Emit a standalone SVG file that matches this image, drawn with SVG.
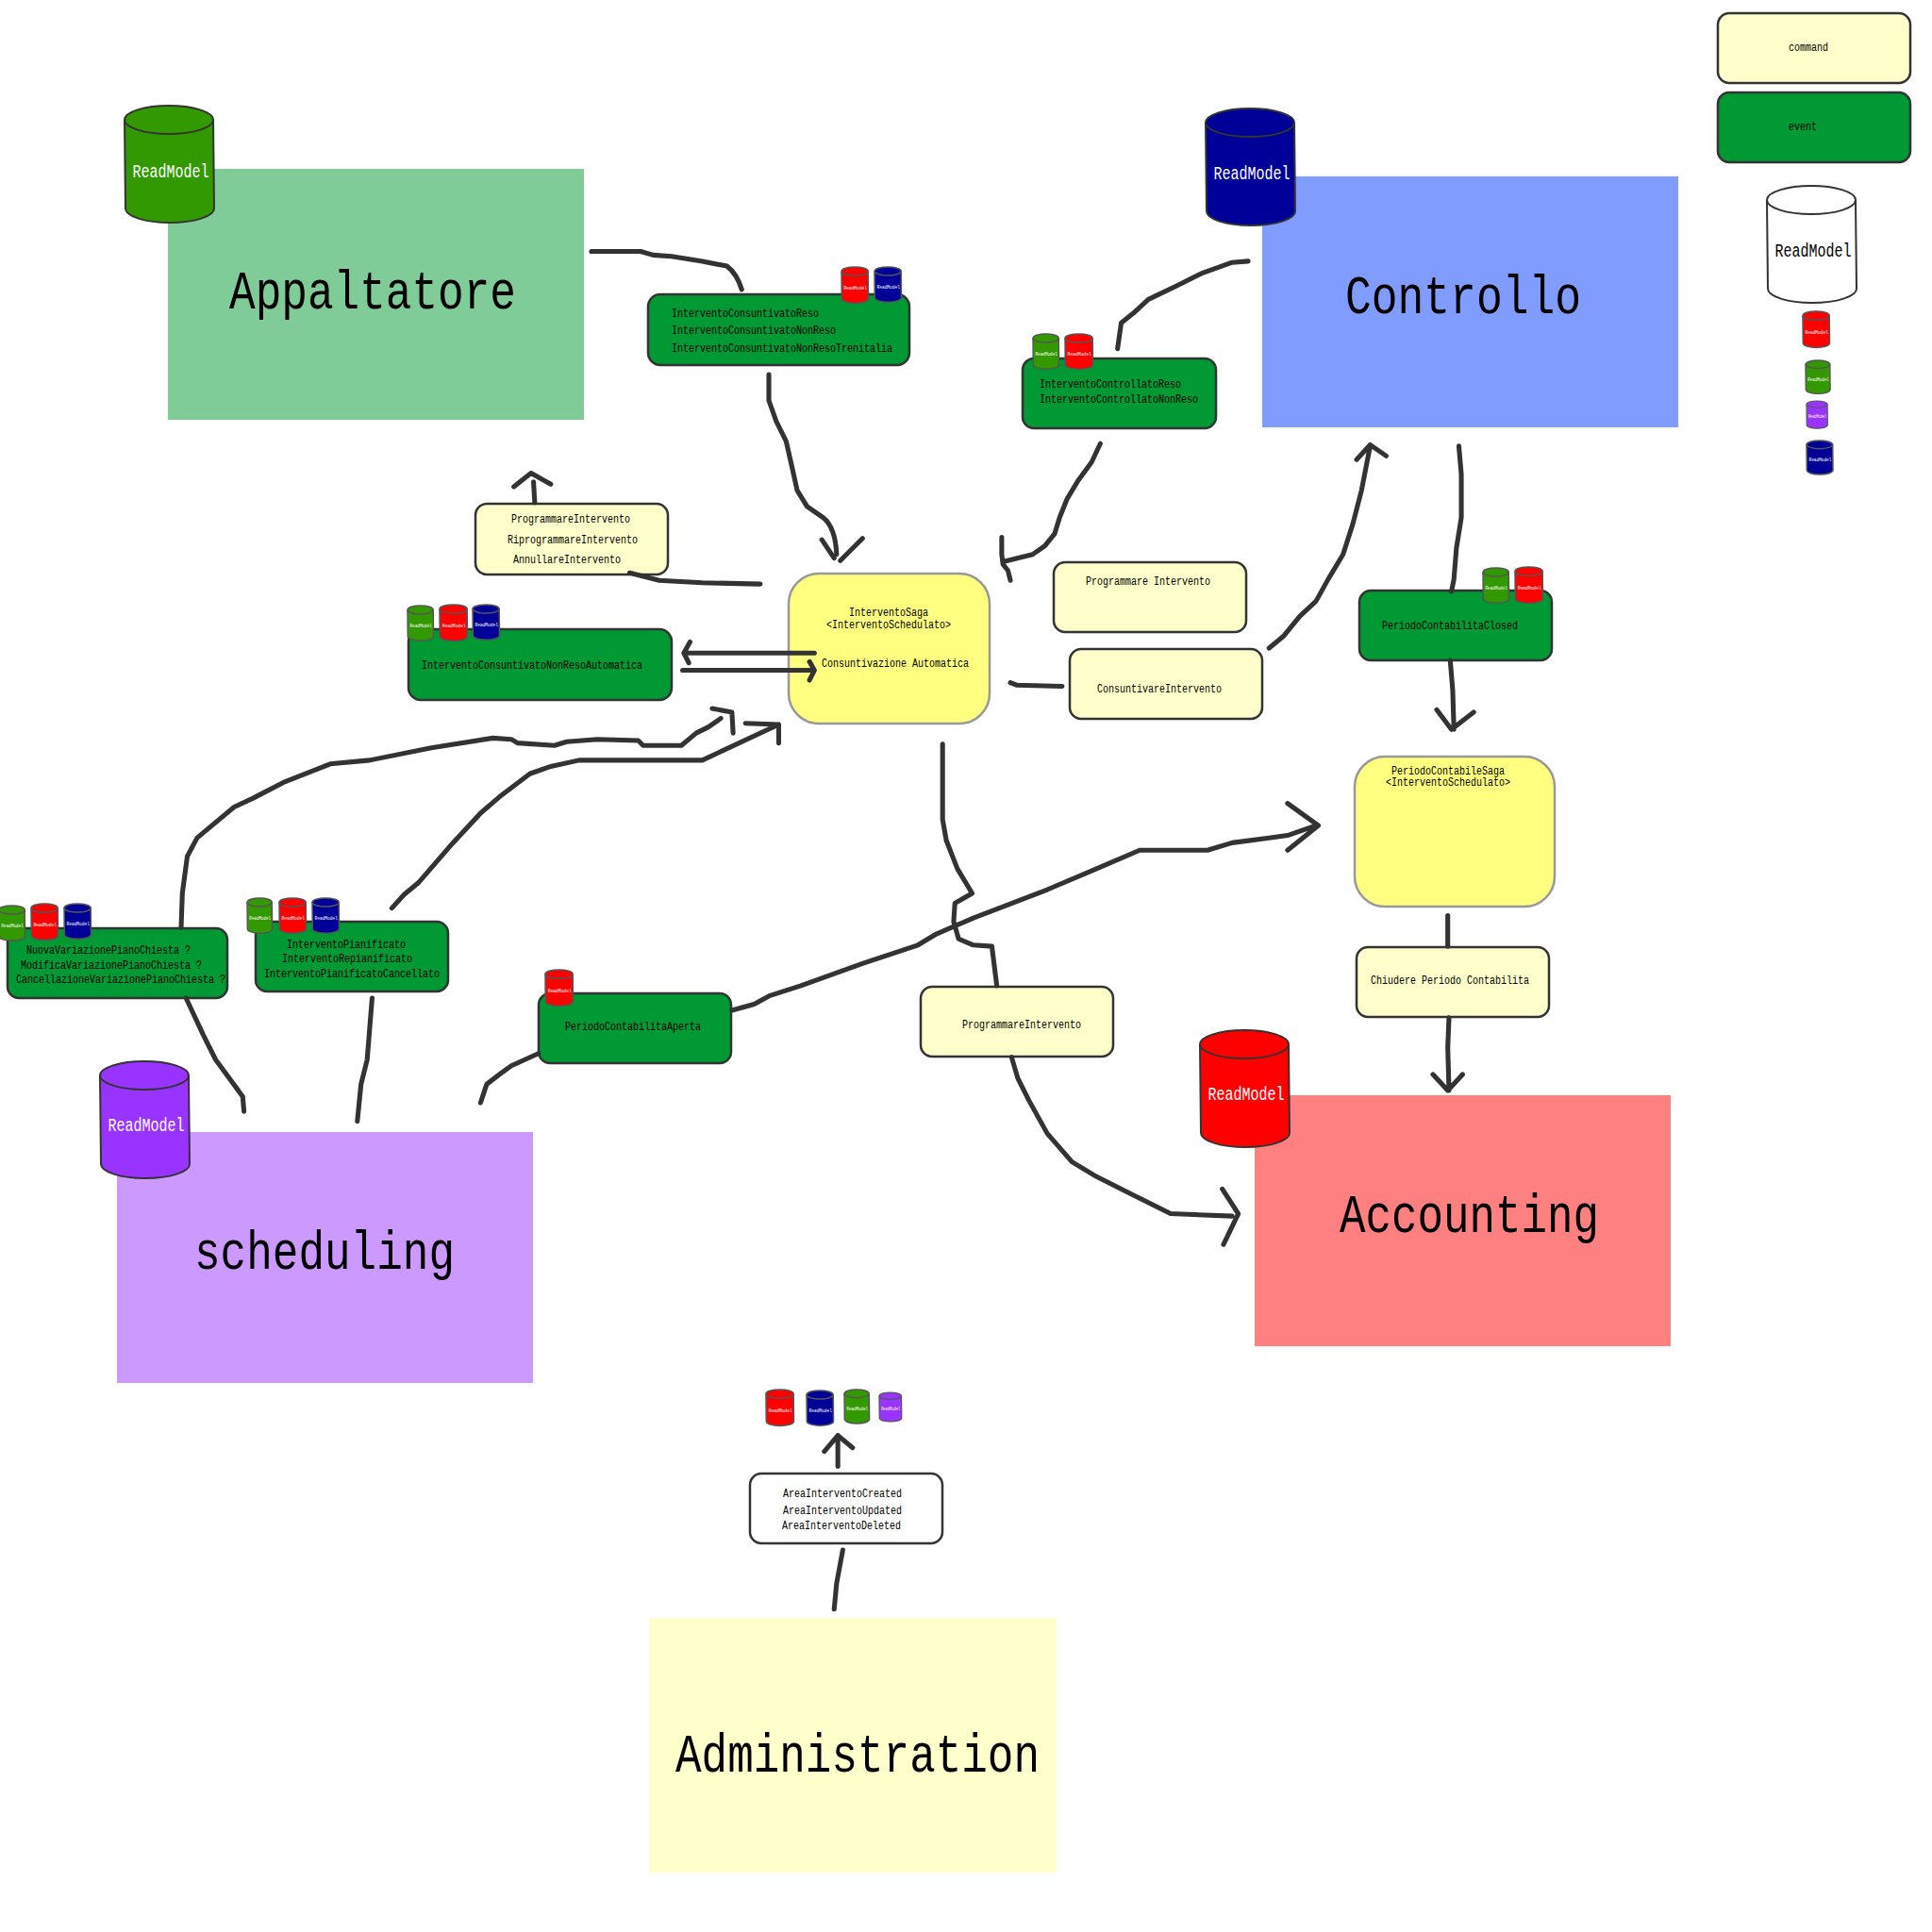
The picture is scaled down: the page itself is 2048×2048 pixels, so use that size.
<svg xmlns="http://www.w3.org/2000/svg" xmlns:xlink="http://www.w3.org/1999/xlink" width="2048" height="2048" viewBox="0 0 2048 2048">
<style>
text{font-family:"Liberation Mono","Noto Sans CJK SC",monospace;fill:#000}
.t{font-size:12.5px;text-anchor:middle}
.l{font-size:12.5px}
.title{font-size:58px}
.rm{font-size:20px;fill:#fff;text-anchor:middle}
.cmd{fill:#FFFFCC;stroke:#333;stroke-width:2.5}
.evt{fill:#009933;stroke:#333;stroke-width:2.5}
.wht{fill:#fff;stroke:#333;stroke-width:2.5}
.saga{fill:#FFFF80;stroke:#999;stroke-width:2.5}
.c path{fill:none;stroke:#333;stroke-width:3.9;stroke-linecap:round;stroke-linejoin:round}
.cb{stroke:#333;stroke-width:2}
.cs{stroke:#555;stroke-width:5}
</style>
<defs>
<g id="cyl"><path d="M0 15A47 15 0 0 1 94 15L95 109A47 15 0 0 1 1 109Z"/><path d="M0 15A47 15 0 0 0 94 15" fill="none"/></g>
</defs>
<rect width="2048" height="2048" fill="#fff"/>

<g id="appaltatore"><rect x="178" y="179" width="441" height="266" fill="#80CC99"/><text class="title" x="243" y="327" textLength="304" lengthAdjust="spacingAndGlyphs">Appaltatore</text>
<g transform="translate(132 112)"><use href="#cyl" fill="#339900" class="cb"/><text class="rm" x="49" y="76" textLength="81" lengthAdjust="spacingAndGlyphs">ReadModel</text></g></g>

<g id="controllo"><rect x="1338" y="187" width="441" height="266" fill="#809CFF"/><text class="title" x="1426" y="332" textLength="250" lengthAdjust="spacingAndGlyphs">Controllo</text>
<g transform="translate(1278 115)"><use href="#cyl" fill="#000099" class="cb"/><text class="rm" x="49" y="75" textLength="81" lengthAdjust="spacingAndGlyphs">ReadModel</text></g></g>

<g id="scheduling"><rect x="124" y="1200" width="441" height="266" fill="#CC99FF"/><text class="title" x="206" y="1345" textLength="276" lengthAdjust="spacingAndGlyphs">scheduling</text>
<g transform="translate(106 1125)"><use href="#cyl" fill="#9933FF" class="cb"/><text class="rm" x="49" y="74" textLength="81" lengthAdjust="spacingAndGlyphs">ReadModel</text></g></g>

<g id="accounting"><rect x="1330" y="1161" width="441" height="266" fill="#FF8080"/><text class="title" x="1420" y="1306" textLength="275" lengthAdjust="spacingAndGlyphs">Accounting</text>
<g transform="translate(1272 1092)"><use href="#cyl" fill="#FF0000" class="cb"/><text class="rm" x="49" y="74" textLength="81" lengthAdjust="spacingAndGlyphs">ReadModel</text></g></g>

<g id="administration"><rect x="688" y="1715" width="432" height="270" fill="#FFFFCC"/><text class="title" x="716" y="1878" textLength="386" lengthAdjust="spacingAndGlyphs">Administration</text></g>

<g id="legend-command"><rect class="cmd" x="1821" y="14" width="204" height="74" rx="12"/><text class="l" x="1896" y="54" textLength="42" lengthAdjust="spacingAndGlyphs">command</text></g>
<g id="legend-event"><rect class="evt" x="1821" y="98" width="204" height="74" rx="12"/><text class="l" x="1896" y="138" textLength="30" lengthAdjust="spacingAndGlyphs">event</text></g>
<g id="legend-readmodel" transform="translate(1873 197)"><use href="#cyl" fill="#fff" class="cb"/><text class="rm" style="fill:#000" x="49" y="75" textLength="81" lengthAdjust="spacingAndGlyphs">ReadModel</text></g>
<g id="legend-red" transform="translate(1911 330) scale(.3 .31)"><use href="#cyl" fill="#FF0000" class="cs"/><text class="rm" x="49" y="76" textLength="81" lengthAdjust="spacingAndGlyphs">ReadModel</text></g>
<g id="legend-green" transform="translate(1914 382) scale(.275 .285)"><use href="#cyl" fill="#339900" class="cs"/><text class="rm" x="49" y="76" textLength="81" lengthAdjust="spacingAndGlyphs">ReadModel</text></g>
<g id="legend-purple" transform="translate(1915 425) scale(.235 .235)"><use href="#cyl" fill="#9933FF" class="cs"/><text class="rm" x="49" y="76" textLength="81" lengthAdjust="spacingAndGlyphs">ReadModel</text></g>
<g id="legend-navy" transform="translate(1915 467) scale(.295 .29)"><use href="#cyl" fill="#000099" class="cs"/><text class="rm" x="49" y="76" textLength="81" lengthAdjust="spacingAndGlyphs">ReadModel</text></g>

<g id="evt-consuntivato"><rect class="evt" x="687" y="312" width="277" height="75" rx="13"/>
<text class="l" x="712" y="336" textLength="156" lengthAdjust="spacingAndGlyphs">InterventoConsuntivatoReso</text>
<text class="l" x="712" y="354" textLength="174" lengthAdjust="spacingAndGlyphs">InterventoConsuntivatoNonReso</text>
<text class="l" x="712" y="373" textLength="234" lengthAdjust="spacingAndGlyphs">InterventoConsuntivatoNonResoTrenitalia</text>
<g transform="translate(892 283) scale(.3 .31)"><use href="#cyl" fill="#FF0000" class="cs"/><text class="rm" x="49" y="76" textLength="81" lengthAdjust="spacingAndGlyphs">ReadModel</text></g>
<g transform="translate(927 283) scale(.3 .3)"><use href="#cyl" fill="#000099" class="cs"/><text class="rm" x="49" y="76" textLength="81" lengthAdjust="spacingAndGlyphs">ReadModel</text></g></g>

<g id="evt-controllato"><rect class="evt" x="1084" y="380" width="205" height="74" rx="12"/>
<text class="l" x="1102" y="411" textLength="150" lengthAdjust="spacingAndGlyphs">InterventoControllatoReso</text>
<text class="l" x="1102" y="427" textLength="168" lengthAdjust="spacingAndGlyphs">InterventoControllatoNonReso</text>
<g transform="translate(1095 354) scale(.29 .3)"><use href="#cyl" fill="#339900" class="cs"/><text class="rm" x="49" y="76" textLength="81" lengthAdjust="spacingAndGlyphs">ReadModel</text></g>
<g transform="translate(1129 354) scale(.31 .3)"><use href="#cyl" fill="#FF0000" class="cs"/><text class="rm" x="49" y="76" textLength="81" lengthAdjust="spacingAndGlyphs">ReadModel</text></g></g>

<g id="cmd-programmare"><rect class="cmd" x="504" y="534" width="204" height="75" rx="12"/>
<text class="t" x="605" y="554" textLength="126" lengthAdjust="spacingAndGlyphs">ProgrammareIntervento</text>
<text class="t" x="607" y="576" textLength="138" lengthAdjust="spacingAndGlyphs">RiprogrammareIntervento</text>
<text class="t" x="601" y="597" textLength="114" lengthAdjust="spacingAndGlyphs">AnnullareIntervento</text></g>

<g id="evt-automatica"><rect class="evt" x="433" y="667" width="279" height="75" rx="13"/>
<text class="l" x="447" y="709" textLength="234" lengthAdjust="spacingAndGlyphs">InterventoConsuntivatoNonResoAutomatica</text>
<g transform="translate(432 642) scale(.29 .3)"><use href="#cyl" fill="#339900" class="cs"/><text class="rm" x="49" y="76" textLength="81" lengthAdjust="spacingAndGlyphs">ReadModel</text></g>
<g transform="translate(466 641) scale(.31 .31)"><use href="#cyl" fill="#FF0000" class="cs"/><text class="rm" x="49" y="76" textLength="81" lengthAdjust="spacingAndGlyphs">ReadModel</text></g>
<g transform="translate(501 641) scale(.3 .3)"><use href="#cyl" fill="#000099" class="cs"/><text class="rm" x="49" y="76" textLength="81" lengthAdjust="spacingAndGlyphs">ReadModel</text></g></g>

<g id="saga-intervento"><rect class="saga" x="836" y="608" width="213" height="159" rx="32"/>
<text class="t" x="942" y="653" textLength="84" lengthAdjust="spacingAndGlyphs">InterventoSaga</text>
<text class="t" x="942" y="666" textLength="132" lengthAdjust="spacingAndGlyphs">&lt;InterventoSchedulato&gt;</text>
<text class="t" x="949" y="707" textLength="156" lengthAdjust="spacingAndGlyphs">Consuntivazione Automatica</text></g>

<g id="cmd-programmare2"><rect class="cmd" x="1117" y="596" width="204" height="74" rx="12"/><text class="t" x="1217" y="620" textLength="132" lengthAdjust="spacingAndGlyphs">Programmare Intervento</text></g>
<g id="cmd-consuntivare"><rect class="cmd" x="1134" y="688" width="204" height="74" rx="12"/><text class="t" x="1229" y="734" textLength="132" lengthAdjust="spacingAndGlyphs">ConsuntivareIntervento</text></g>

<g id="evt-closed"><rect class="evt" x="1441" y="626" width="204" height="74" rx="12"/><text class="t" x="1537" y="667" textLength="144" lengthAdjust="spacingAndGlyphs">PeriodoContabilitaClosed</text>
<g transform="translate(1572 602) scale(.29 .3)"><use href="#cyl" fill="#339900" class="cs"/><text class="rm" x="49" y="76" textLength="81" lengthAdjust="spacingAndGlyphs">ReadModel</text></g>
<g transform="translate(1606 601) scale(.31 .31)"><use href="#cyl" fill="#FF0000" class="cs"/><text class="rm" x="49" y="76" textLength="81" lengthAdjust="spacingAndGlyphs">ReadModel</text></g></g>

<g id="saga-periodo"><rect class="saga" x="1436" y="802" width="212" height="159" rx="32"/>
<text class="t" x="1535" y="821" textLength="120" lengthAdjust="spacingAndGlyphs">PeriodoContabileSaga</text>
<text class="t" x="1535" y="833" textLength="132" lengthAdjust="spacingAndGlyphs">&lt;InterventoSchedulato&gt;</text></g>

<g id="cmd-chiudere"><rect class="cmd" x="1438" y="1004" width="204" height="74" rx="12"/><text class="t" x="1537" y="1043" textLength="168" lengthAdjust="spacingAndGlyphs">Chiudere Periodo Contabilita</text></g>
<g id="cmd-programmare3"><rect class="cmd" x="976" y="1046" width="204" height="74" rx="12"/><text class="t" x="1083" y="1090" textLength="126" lengthAdjust="spacingAndGlyphs">ProgrammareIntervento</text></g>

<g id="evt-aperta"><rect class="evt" x="571" y="1053" width="204" height="74" rx="12"/><text class="t" x="671" y="1092" textLength="144" lengthAdjust="spacingAndGlyphs">PeriodoContabilitaAperta</text>
<g transform="translate(578 1028) scale(.31 .31)"><use href="#cyl" fill="#FF0000" class="cs"/><text class="rm" x="49" y="76" textLength="81" lengthAdjust="spacingAndGlyphs">ReadModel</text></g></g>

<g id="evt-pianificato"><rect class="evt" x="271" y="977" width="204" height="74" rx="12"/>
<text class="t" x="367" y="1005" textLength="126" lengthAdjust="spacingAndGlyphs">InterventoPianificato</text>
<text class="t" x="368" y="1020" textLength="138" lengthAdjust="spacingAndGlyphs">InterventoRepianificato</text>
<text class="t" x="373" y="1036" textLength="186" lengthAdjust="spacingAndGlyphs">InterventoPianificatoCancellato</text>
<g transform="translate(262 952) scale(.28 .3)"><use href="#cyl" fill="#339900" class="cs"/><text class="rm" x="49" y="76" textLength="81" lengthAdjust="spacingAndGlyphs">ReadModel</text></g>
<g transform="translate(296 952) scale(.3 .3)"><use href="#cyl" fill="#FF0000" class="cs"/><text class="rm" x="49" y="76" textLength="81" lengthAdjust="spacingAndGlyphs">ReadModel</text></g>
<g transform="translate(331 952) scale(.3 .3)"><use href="#cyl" fill="#000099" class="cs"/><text class="rm" x="49" y="76" textLength="81" lengthAdjust="spacingAndGlyphs">ReadModel</text></g></g>

<g id="evt-variazione"><rect class="evt" x="8" y="984" width="233" height="74" rx="12"/>
<text class="t" x="115" y="1011" textLength="174" lengthAdjust="spacingAndGlyphs">NuovaVariazionePianoChiesta ?</text>
<text class="t" x="118" y="1027" textLength="192" lengthAdjust="spacingAndGlyphs">ModificaVariazionePianoChiesta ?</text>
<text class="t" x="128" y="1042" textLength="222" lengthAdjust="spacingAndGlyphs">CancellazioneVariazionePianoChiesta ?</text>
<g transform="translate(-1 960) scale(.29 .3)"><use href="#cyl" fill="#339900" class="cs"/><text class="rm" x="49" y="76" textLength="81" lengthAdjust="spacingAndGlyphs">ReadModel</text></g>
<g transform="translate(33 958) scale(.3 .31)"><use href="#cyl" fill="#FF0000" class="cs"/><text class="rm" x="49" y="76" textLength="81" lengthAdjust="spacingAndGlyphs">ReadModel</text></g>
<g transform="translate(68 958) scale(.3 .3)"><use href="#cyl" fill="#000099" class="cs"/><text class="rm" x="49" y="76" textLength="81" lengthAdjust="spacingAndGlyphs">ReadModel</text></g></g>

<g id="evt-area"><rect class="wht" x="795" y="1562" width="204" height="74" rx="12"/>
<text class="t" x="893" y="1587" textLength="126" lengthAdjust="spacingAndGlyphs">AreaInterventoCreated</text>
<text class="t" x="893" y="1605" textLength="126" lengthAdjust="spacingAndGlyphs">AreaInterventoUpdated</text>
<text class="t" x="892" y="1621" textLength="126" lengthAdjust="spacingAndGlyphs">AreaInterventoDeleted</text></g>

<g id="area-cylinders">
<g transform="translate(812 1473) scale(.31 .31)"><use href="#cyl" fill="#FF0000" class="cs"/><text class="rm" x="49" y="76" textLength="81" lengthAdjust="spacingAndGlyphs">ReadModel</text></g>
<g transform="translate(855 1474) scale(.3 .3)"><use href="#cyl" fill="#000099" class="cs"/><text class="rm" x="49" y="76" textLength="81" lengthAdjust="spacingAndGlyphs">ReadModel</text></g>
<g transform="translate(895 1473) scale(.28 .29)"><use href="#cyl" fill="#339900" class="cs"/><text class="rm" x="49" y="76" textLength="81" lengthAdjust="spacingAndGlyphs">ReadModel</text></g>
<g transform="translate(932 1476) scale(.25 .25)"><use href="#cyl" fill="#9933FF" class="cs"/><text class="rm" x="49" y="76" textLength="81" lengthAdjust="spacingAndGlyphs">ReadModel</text></g>
</g>

<g id="connectors" class="c" transform="scale(1.30612)">
<path d="M480 204L520 204L530 207L545 208L570 212L590 216Q598 222 602 235"/>
<path d="M624 304L624 325L630 342L638 358L643 380L647 398L655 411L668 420Q678 428 679 450M667 438L677 453M700 437L682 455"/>
<path d="M1013 212L1000 213L975 222L955 232L932 243L920 254L910 262L907 283"/>
<path d="M893 360L886 375L875 390L866 405L860 420L856 433L848 443L838 450L814 456M813 436L813 450L814 458L818 463L820 471"/>
<path d="M617 474L570 473L535 471L511 465"/>
<path d="M434 408L433 391M417 395L431 384L447 393"/>
<path d="M661 530L556 530M560 521L555 530L559 538"/>
<path d="M554 544L661 544M657 537L661 544L657 552"/>
<path d="M820 554L825 556L862 557"/>
<path d="M1030 526L1042 516L1055 500L1068 488L1078 470L1090 450L1098 425L1105 398L1112 362M1101 373L1112 361L1125 370"/>
<path d="M1184 362L1186 385L1186 420L1182 445L1180 470L1178 480"/>
<path d="M1177 536L1179 560L1180 592M1166 576L1178 592L1196 578"/>
<path d="M1175 743L1175 768"/>
<path d="M1176 826L1175 850L1176 885M1163 872L1175 885L1187 872"/>
<path d="M765 604L765 665L768 682L777 705L789 725L775 733L774 748L778 762L790 767L805 768L809 800"/>
<path d="M821 858L826 875L835 893L850 920L870 943L890 955L920 970L950 985L1000 987M992 965L1005 985L993 1010"/>
<path d="M594 820L612 815L625 808L650 800L700 782L745 767L760 758L790 745L850 722L890 705L925 690L980 690L1000 684L1030 680L1045 678L1068 670M1045 652L1070 670L1045 690"/>
<path d="M390 895L395 880L408 870L415 865L437 855"/>
<path d="M290 910L293 880L298 860L302 810"/>
<path d="M318 737L328 726L340 716L365 687L390 660L405 647L430 628L447 622L470 617L570 617L632 588M605 587L632 588L632 603"/>
<path d="M198 902L197 890L175 860L165 840L151 810"/>
<path d="M147 753L148 725L152 695L160 680L190 655L205 648L230 635L268 620L300 617L350 607L400 599L415 600L420 603L450 605L460 602L485 600L518 601L522 605L553 605L565 595L575 590L585 583M578 575L594 578L595 595"/>
<path d="M677 1306L679 1285L684 1258"/>
<path d="M680 1190L680 1165M669 1178L680 1165L692 1175"/>
</g>
</svg>
